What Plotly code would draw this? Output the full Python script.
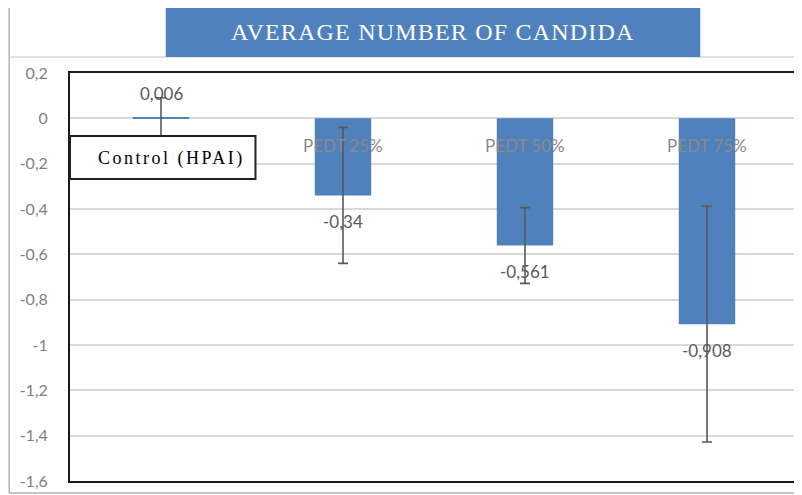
import plotly.graph_objects as go

categories = ["Control (HPAI)", "PEDT 25%", "PEDT 50%", "PEDT 75%"]
means = [0.006, -0.34, -0.561, -0.908]
errors = [0.085, 0.30, 0.167, 0.52]
y_tickvals = [0.2, 0, -0.2, -0.4, -0.6, -0.8, -1, -1.2, -1.4, -1.6]
y_ticktext = ["0,2", "0", "-0,2", "-0,4", "-0,6", "-0,8", "-1", "-1,2", "-1,4", "-1,6"]
title_text = "AVERAGE NUMBER OF CANDIDA"

BLUE = "#4F81BD"
GRAY = "#595959"
SANS = "Lato, Open Sans, sans-serif"
SERIF = "Liberation Serif, Times New Roman, serif"

# page body has an 8px margin; figure is sized so that the plot area sits at
# screen x 70..800, y 73..481
PX = lambda sx: (sx - 70) / 730
PY = lambda sy: (481 - sy) / 408

fig = go.Figure()
fig.add_trace(go.Bar(
    x=categories, y=means,
    marker=dict(color=BLUE, line=dict(width=0)),
    error_y=dict(type="data", array=errors, visible=True, color=GRAY, thickness=1.6, width=5),
    showlegend=False, hoverinfo="skip",
))

def fmt(v):
    return ("%g" % v).replace(".", ",")

annotations = []
for c, v in zip(categories, means):
    annotations.append(dict(
        x=c, y=v, xref="x", yref="y", text=fmt(v), showarrow=False,
        xanchor="center", yanchor="middle",
        yshift=(23 if v > 0 else -26),
        font=dict(family=SANS, size=17, color=GRAY),
    ))
for c in categories[1:]:
    annotations.append(dict(
        x=c, y=-0.12, xref="x", yref="y", text=c, showarrow=False,
        xanchor="center", yanchor="middle",
        font=dict(family=SANS, size=17, color="#8a8a8a"),
    ))
annotations.append(dict(
    x=PX(172), y=PY(158), xref="paper", yref="paper",
    text='<span style="letter-spacing:2.5px">' + categories[0] + '</span>', showarrow=False,
    xanchor="center", yanchor="middle",
    font=dict(family=SERIF, size=18, color="black"),
))
annotations.append(dict(
    x=PX(434), y=PY(32), xref="paper", yref="paper",
    text='<span style="letter-spacing:1.2px">' + title_text + '</span>', showarrow=False,
    xanchor="center", yanchor="middle",
    font=dict(family=SERIF, size=24, color="white"),
))

shapes = [
    dict(type="rect", xref="paper", yref="paper",
         x0=PX(9), x1=PX(801), y0=PY(493), y1=PY(2),
         line=dict(color="#8c8c8c", width=1), fillcolor="rgba(0,0,0,0)", layer="below"),
    dict(type="line", xref="paper", yref="paper",
         x0=PX(9), x1=PX(800), y0=PY(57), y1=PY(57),
         line=dict(color="#d9d9d9", width=1.5)),
    dict(type="rect", xref="paper", yref="paper",
         x0=PX(166), x1=PX(702), y0=PY(57), y1=PY(8),
         line=dict(width=0), fillcolor=BLUE, layer="above"),
    dict(type="rect", xref="paper", yref="paper",
         x0=PX(70), x1=PX(256), y0=PY(179), y1=PY(136),
         line=dict(color="#222222", width=2), fillcolor="white", layer="above"),
]

fig.update_layout(
    width=794, height=487,
    margin=dict(l=62, r=2, t=65, b=14),
    paper_bgcolor="white", plot_bgcolor="white",
    bargap=0.69,
    annotations=annotations, shapes=shapes,
    showlegend=False,
)
fig.update_xaxes(
    showticklabels=False, showgrid=False, zeroline=False,
    showline=True, linecolor="#1a1a1a", linewidth=2, mirror=True,
)
fig.update_yaxes(
    range=[-1.6, 0.2], tickvals=y_tickvals, ticktext=y_ticktext,
    showgrid=True, gridcolor="#d9d9d9", gridwidth=1.5, zeroline=False,
    showline=True, linecolor="#1a1a1a", linewidth=2, mirror=True,
    tickfont=dict(family=SANS, size=16, color="#7f7f7f"),
    ticklabelstandoff=17,
)

fig.write_html("out.html")
